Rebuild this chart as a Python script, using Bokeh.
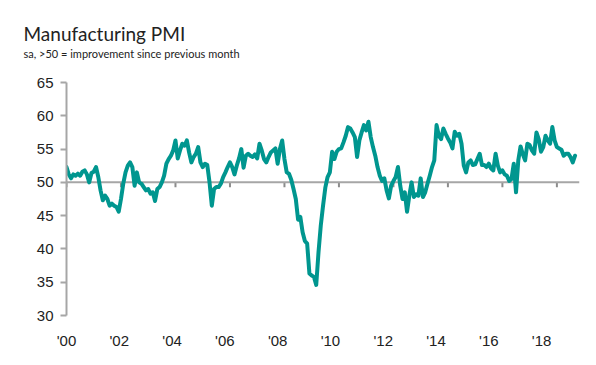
import numpy as np
import pandas as pd
from bokeh.plotting import figure
from bokeh.models import Range1d, FixedTicker, Span, Title
from bokeh.embed import file_html
from bokeh.resources import INLINE

# ---- data (manufacturing PMI, monthly, Jan 2000 - Sep 2018) ----
pmi_2000 = [52.3, 51.2, 50.6, 51.2, 51.0, 51.3, 51.0, 51.6, 51.8, 51.2, 50.0, 51.4]
pmi_2001 = [51.6, 52.3, 50.8, 48.8, 47.3, 48.0, 47.5, 46.5, 46.8, 46.5, 46.3, 45.6]
pmi_2002 = [47.5, 49.8, 51.5, 52.5, 53.0, 52.3, 49.5, 51.5, 50.0, 49.8, 49.3, 48.8]
pmi_2003 = [49.0, 48.3, 48.5, 47.2, 49.0, 49.3, 50.0, 51.0, 52.8, 53.5, 54.0, 54.8]
pmi_2004 = [56.3, 53.6, 54.8, 55.8, 55.5, 56.3, 54.5, 53.0, 53.8, 54.3, 55.3, 53.0]
pmi_2005 = [52.3, 52.8, 52.6, 50.0, 46.5, 49.0, 49.3, 49.3, 49.8, 50.8, 51.5, 52.3]
pmi_2006 = [53.0, 52.3, 51.2, 52.5, 53.6, 55.0, 52.2, 54.0, 54.3, 54.0, 53.8, 54.2]
pmi_2007 = [53.6, 55.8, 54.8, 53.5, 53.0, 53.8, 54.5, 54.8, 55.1, 52.8, 55.0, 56.3]
pmi_2008 = [53.5, 51.5, 51.3, 50.4, 49.0, 47.5, 44.4, 44.8, 42.5, 41.2, 40.8, 36.3]
pmi_2009 = [36.0, 35.8, 34.6, 39.5, 43.5, 46.5, 49.2, 50.8, 51.5, 54.6, 53.5, 54.6]
pmi_2010 = [55.0, 55.1, 56.0, 57.0, 58.3, 58.1, 57.5, 56.8, 53.8, 56.3, 57.5, 58.6]
pmi_2011 = [57.8, 59.1, 56.8, 55.3, 54.0, 52.3, 51.0, 50.2, 50.6, 48.8, 47.6, 49.5]
pmi_2012 = [50.2, 50.8, 52.3, 49.5, 47.5, 48.5, 45.6, 48.0, 50.0, 47.8, 48.2, 48.0]
pmi_2013 = [50.6, 47.8, 48.5, 49.8, 51.0, 52.3, 53.3, 58.6, 57.0, 56.5, 58.1, 57.3]
pmi_2014 = [56.6, 56.0, 55.1, 57.6, 57.0, 57.3, 55.8, 52.5, 51.5, 53.0, 53.3, 52.6]
pmi_2015 = [52.7, 53.5, 54.3, 52.6, 52.6, 52.3, 52.8, 52.1, 51.8, 54.3, 52.5, 51.5]
pmi_2016 = [51.8, 51.2, 51.0, 50.2, 50.5, 52.8, 48.5, 53.3, 55.4, 54.2, 53.3, 55.8]
pmi_2017 = [55.6, 54.8, 54.3, 57.5, 56.5, 54.6, 55.3, 57.0, 56.3, 55.8, 58.3, 56.3]
pmi_2018 = [55.3, 55.1, 54.9, 54.0, 54.3, 54.3, 53.8, 53.0, 54.0]

tick_years = [2000, 2002, 2004, 2006, 2008, 2010, 2012, 2014, 2016, 2018]
tick_labels = ["'00", "'02", "'04", "'06", "'08", "'10", "'12", "'14", "'16", "'18"]
y_ticks = [30, 35, 40, 45, 50, 55, 60, 65]

values = (pmi_2000 + pmi_2001 + pmi_2002 + pmi_2003 + pmi_2004 + pmi_2005 + pmi_2006
          + pmi_2007 + pmi_2008 + pmi_2009 + pmi_2010 + pmi_2011 + pmi_2012 + pmi_2013
          + pmi_2014 + pmi_2015 + pmi_2016 + pmi_2017 + pmi_2018)
months = pd.date_range("2000-01-01", periods=len(values), freq="MS")
xpos = np.array(months.year + (months.month - 1) / 12.0, dtype=float)

TEAL = "#00968f"
GRID = "#a6a6a6"
TXT = "#222222"

X_END = 2018.83
# the category labels along the bottom are spaced a little tighter than the ticks
LABEL_END = 2000 + (X_END - 2000) * 54.5 / 52.8

p = figure(width=588, height=357, x_range=Range1d(2000, X_END), y_range=Range1d(30, 65),
           output_backend="svg", toolbar_location=None,
           min_border_left=66, min_border_right=9, min_border_top=82, min_border_bottom=42)
p.extra_x_ranges = {"labels": Range1d(2000, LABEL_END)}
p.outline_line_color = None
p.grid.grid_line_color = None
p.background_fill_color = "white"

# titles
p.title.text = "Manufacturing PMI"
p.title.text_font = "Lato"
p.title.text_font_size = "19px"
p.title.text_font_style = "normal"
p.title.text_color = TXT
p.title.offset = -43
p.title.standoff = -46
sub = Title(text="sa, >50 = improvement since previous month", text_font="Lato",
            text_font_size="11px", text_font_style="normal", text_color=TXT,
            offset=-43, standoff=46)
p.add_layout(sub, "above")

# y axis
p.yaxis.ticker = FixedTicker(ticks=y_ticks)
p.yaxis.axis_line_color = GRID
p.yaxis.axis_line_width = 2
p.yaxis.major_tick_line_color = GRID
p.yaxis.major_tick_line_width = 2
p.yaxis.major_tick_out = 6
p.yaxis.major_tick_in = 0
p.yaxis.minor_tick_line_color = None
p.yaxis.major_label_standoff = 7
p.yaxis.major_label_text_font = "Liberation Sans"
p.yaxis.major_label_text_font_size = "15px"
p.yaxis.major_label_text_color = TXT

# x axis (labels only at the bottom)
xa = p.xaxis[0]
xa.x_range_name = "labels"
xa.ticker = FixedTicker(ticks=tick_years)
xa.major_label_overrides = {y: l for y, l in zip(tick_years, tick_labels)}
xa.axis_line_color = None
xa.major_tick_line_color = None
xa.minor_tick_line_color = None
xa.major_tick_out = 0
xa.major_tick_in = 0
xa.major_label_standoff = 16
xa.major_label_text_font = "Liberation Sans"
xa.major_label_text_font_size = "15px"
xa.major_label_text_color = TXT

# 50 line with ticks
p.add_layout(Span(location=50, dimension="width", line_color=GRID, line_width=2, level="underlay"))
tick_len = 5 / (233 / 35)
p.segment(x0=tick_years, y0=[50] * len(tick_years), x1=tick_years,
          y1=[50 - tick_len] * len(tick_years), line_color="#8c8c8c", line_width=2, level="underlay")

p.line(xpos, values, line_color=TEAL, line_width=4, line_join="round", line_cap="round")

open("out.html", "w").write(file_html(p, INLINE))
